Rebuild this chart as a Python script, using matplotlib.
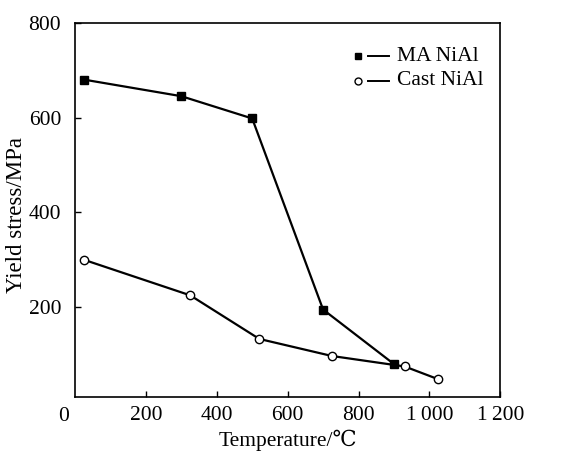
import matplotlib
matplotlib.use('Agg')
import matplotlib.pyplot as plt

# Yield stress vs temperature
ma_temp = [25, 300, 500, 700, 900]
ma_stress = [680, 645, 598, 195, 80]
cast_temp = [25, 325, 520, 725, 930, 1025]
cast_stress = [300, 225, 133, 97, 75, 48]
x_ticks = [200, 400, 600, 800, 1000, 1200]
x_labels = ['200', '400', '600', '800', '1\u2009000', '1\u2009200']
y_ticks = [200, 400, 600, 800]

plt.rcParams['font.family'] = ['Liberation Serif', 'DejaVu Serif']

fig = plt.figure(figsize=(5.77, 4.54), dpi=100)
ax = fig.add_axes([0.130, 0.125, 0.737, 0.825])

ax.plot(ma_temp, ma_stress, '-s', color='black', lw=1.6, ms=6,
        markerfacecolor='black', clip_on=False)
ax.plot(cast_temp, cast_stress, '-o', color='black', lw=1.6, ms=6,
        markerfacecolor='white', markeredgewidth=1.0, clip_on=False)

ax.set_xlim(0, 1200)
ax.set_ylim(10, 800)
ax.set_xticks(x_ticks)
ax.set_xticklabels(x_labels)
ax.set_yticks(y_ticks)
ax.tick_params(direction='in', length=4, width=1, labelsize=15.5)
ax.tick_params(axis='x', pad=6)
ax.tick_params(axis='y', pad=10)
for s in ax.spines.values():
    s.set_linewidth(1.2)

# origin label
ax.text(-0.015, -0.025, '0', transform=ax.transAxes, fontsize=15.5,
        ha='right', va='top')

ax.set_xlabel('Temperature/\u2103', fontsize=15.5, labelpad=4)
fig.text(0.028, 0.526, 'Yield stress/MPa', fontsize=16.5, rotation=90,
         ha='center', va='center')

# legend drawn by hand
rows = [(0.91, 's', 'black', 'MA NiAl'), (0.845, 'o', 'white', 'Cast NiAl')]
for y, m, fc, label in rows:
    ax.plot([0.666], [y], m, color='black', markerfacecolor=fc, ms=5,
            transform=ax.transAxes)
    ax.plot([0.69, 0.738], [y, y], color='black', lw=1.4,
            transform=ax.transAxes)
    ax.text(0.757, y, label, transform=ax.transAxes, fontsize=15.5,
            ha='left', va='center')

fig.savefig('out.png', dpi=100)
